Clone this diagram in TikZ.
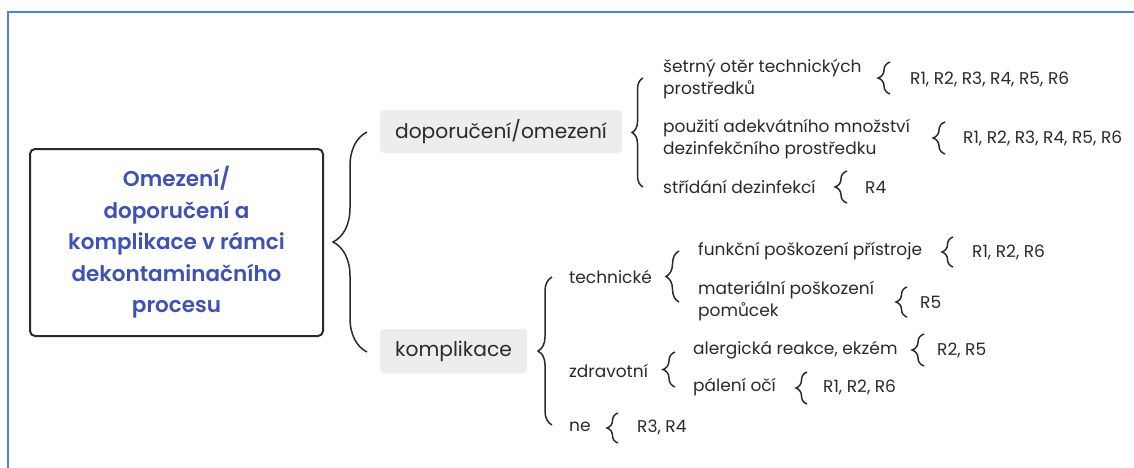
\documentclass[tikz,border=0pt]{standalone}
\usepackage{fontspec}
\setmainfont{Poppins}
\newfontfamily\titlefont{Poppins SemiBold}
\usetikzlibrary{decorations.pathreplacing}
\definecolor{txt}{HTML}{2A2A2A}
\definecolor{boxgray}{HTML}{EDEDED}
\definecolor{titleblue}{HTML}{3F51B5}
\definecolor{frameblue}{HTML}{4C82D9}
\tikzset{
  leaf/.style={anchor=west,inner sep=0pt,font=\fontsize{17}{22}\selectfont,text=txt,align=left},
  branchbox/.style={fill=boxgray,rounded corners=4pt,inner sep=0pt,font=\fontsize{20.2}{22}\selectfont,text=txt},
  titlebox/.style={draw=txt,line width=2pt,rounded corners=5pt,inner sep=0pt,minimum width=293pt,minimum height=187pt,
    align=center,text=titleblue,font=\titlefont\fontsize{21.5}{31.5}\selectfont},
  brc/.style={draw=txt,line width=1.5pt,decorate,decoration={brace,amplitude=#1}},
}
\begin{document}
\begin{tikzpicture}[x=1pt,y=-1pt]
\useasboundingbox (0,0) rectangle (1134,468);
\draw[frameblue,line width=1.5pt] (8,468) -- (8,12) -- (1134,12);

% root
\node[titlebox] (root) at (176.5,242.5) {Omezení/\\doporučení a\\komplikace v rámci\\dekontaminačního\\procesu};

% branch boxes
\node[branchbox,minimum width=242pt,minimum height=43pt] (dop) at (501,131.5) {doporučení/omezení};
\node[branchbox,minimum width=147pt,minimum height=44pt] (kom) at (453.5,351) {komplikace};

% second level
\node[leaf] (sx) at (663,79) {šetrný otěr technických\\prostředků};
\node[leaf] (pou) at (663,139) {použití adekvátního množství\\dezinfekčního prostředku};
\node[leaf] (str) at (663,187) {střídání dezinfekcí};
\node[leaf] (tech) at (569,277) {technické};
\node[leaf] (zdr) at (569,371) {zdravotní};
\node[leaf] (ne) at (569,427) {ne};

% third level
\node[leaf] (fun) at (698,251) {funkční poškození přístroje};
\node[leaf] (mat) at (698,301) {materiální poškození\\pomůcek};
\node[leaf] (ale) at (693,350) {alergická reakce, ekzém};
\node[leaf] (pal) at (693,387) {pálení očí};

% references
\node[leaf] (rsx) at (910,79) {R1, R2, R3, R4, R5, R6};
\node[leaf] (rpou) at (963,138) {R1, R2, R3, R4, R5, R6};
\node[leaf] (rstr) at (865,187) {R4};
\node[leaf] (rfun) at (972,252) {R1, R2, R6};
\node[leaf] (rmat) at (920,302) {R5};
\node[leaf] (rale) at (937,350) {R2, R5};
\node[leaf] (rpal) at (823,387) {R1, R2, R6};
\node[leaf] (rne) at (637,427) {R3, R4};

% brace end points
\coordinate (bRt) at (367,132);  \coordinate (bRb) at (367,352);
\coordinate (bDt) at (643,78);   \coordinate (bDb) at (643,187);
\coordinate (bKt) at (552,277);  \coordinate (bKb) at (552,425);
\coordinate (bSt) at (890,62);   \coordinate (bSb) at (890,94);
\coordinate (bPt) at (945,122);  \coordinate (bPb) at (945,154);
\coordinate (bTt) at (847,171);  \coordinate (bTb) at (847,203);
\coordinate (bTet) at (679,251); \coordinate (bTeb) at (679,302);
\coordinate (bFt) at (953,237);  \coordinate (bFb) at (953,267);
\coordinate (bMt) at (907,287);  \coordinate (bMb) at (907,317);
\coordinate (bZt) at (675,352);  \coordinate (bZb) at (675,387);
\coordinate (bAt) at (924,334);  \coordinate (bAb) at (924,366);
\coordinate (bPat) at (807,372); \coordinate (bPab) at (807,404);
\coordinate (bNt) at (618,413);  \coordinate (bNb) at (618,443);

% braces
\draw[brc=34pt] (bRb) -- (bRt);
\draw[brc=11pt] (bDb) -- (bDt);
\draw[brc=14pt] (bKb) -- (bKt);
\draw[brc=12pt] (bSb) -- (bSt);
\draw[brc=12pt] (bPb) -- (bPt);
\draw[brc=12pt] (bTb) -- (bTt);
\draw[brc=13pt] (bTeb) -- (bTet);
\draw[brc=11pt] (bFb) -- (bFt);
\draw[brc=11pt] (bMb) -- (bMt);
\draw[brc=12pt] (bZb) -- (bZt);
\draw[brc=12pt] (bAb) -- (bAt);
\draw[brc=11pt] (bPab) -- (bPat);
\draw[brc=11pt] (bNb) -- (bNt);
\end{tikzpicture}
\end{document}
